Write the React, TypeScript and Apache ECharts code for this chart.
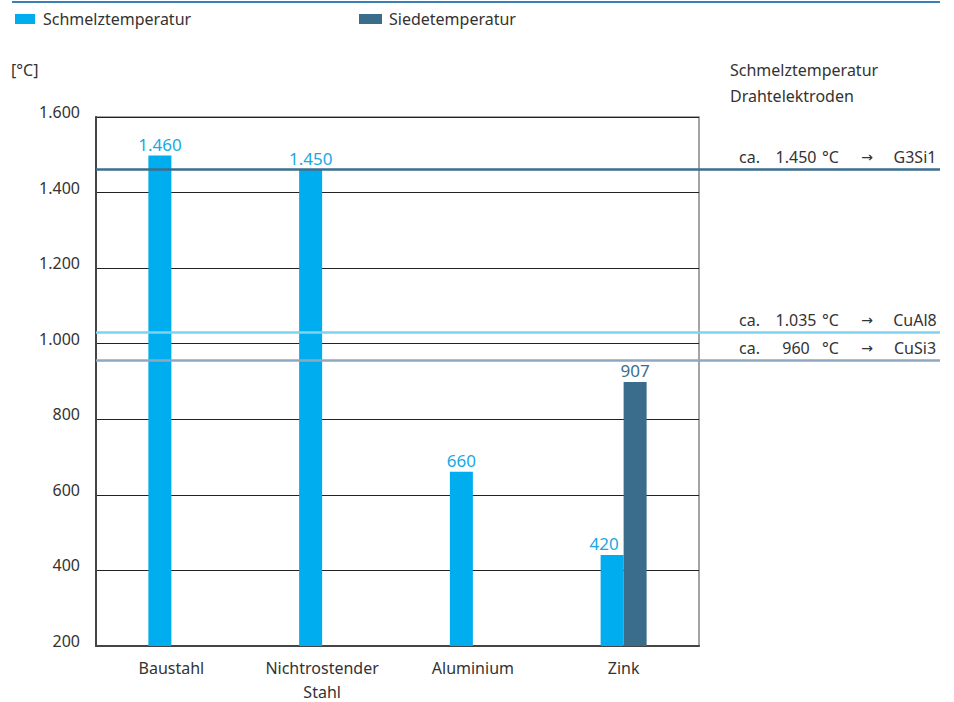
import React, { useEffect, useRef } from "react";
import * as echarts from "echarts";

const categories = ["Baustahl", "Nichtrostender\nStahl", "Aluminium", "Zink"];
const schmelzHeights = [1498, 1461, 661, 441];
const schmelzLabels = ["1.460", "1.450", "660", "420"];
const siedeHeights: (number | null)[] = [null, null, null, 899];
const siedeLabels = ["", "", "", "907"];
const yMin = 200;
const yMax = 1600;
const yStep = 200;
const wireLineValues = [1463, 1030, 957];
const wireTemps = ["1.450", "1.035", "960"];
const wireNames = ["G3Si1", "CuAl8", "CuSi3"];
const wireColors = ["#3b6f8f", "#7dd3f0", "#8fa8bf"];

const FONT = "'Noto Sans', sans-serif";
const CYAN = "#00adee";
const DARK = "#3a6d8c";
const TEXT = "#333333";

const fmt = (v: number) =>
  v >= 1000 ? `${Math.floor(v / 1000)}.${String(v % 1000).padStart(3, "0")}` : String(v);

export default function App() {
  const ref = useRef<HTMLDivElement>(null);
  useEffect(() => {
    if (!ref.current) return;
    const chart = echarts.init(ref.current, undefined, { renderer: "svg" });
    chart.setOption({
      animation: false,
      textStyle: { fontFamily: FONT },
      graphic: [
        { type: "rect", shape: { x: 12, y: 1, width: 928, height: 2 }, style: { fill: "#3a7fb6" } },
      ],
      title: [
        {
          text: "[°C]",
          left: 11,
          top: 62,
          padding: 0,
          textStyle: { fontSize: 16, fontWeight: "normal", color: TEXT, fontFamily: FONT },
        },
        {
          text: "Schmelztemperatur\nDrahtelektroden",
          left: 730,
          top: 57,
          padding: 0,
          textStyle: { fontSize: 16, fontWeight: "normal", color: TEXT, lineHeight: 26, fontFamily: FONT },
        },
      ],
      legend: [
        {
          data: ["Schmelztemperatur"],
          left: 15,
          top: 11,
          padding: 0,
          icon: "rect",
          itemWidth: 20,
          itemHeight: 10,
          textStyle: { fontSize: 16, color: TEXT, padding: [0, 0, 0, 3], fontFamily: FONT },
        },
        {
          data: ["Siedetemperatur"],
          left: 359,
          top: 11,
          padding: 0,
          icon: "rect",
          itemWidth: 23,
          itemHeight: 10,
          textStyle: { fontSize: 16, color: TEXT, padding: [0, 0, 0, 2], fontFamily: FONT },
        },
      ],
      grid: [
        {
          left: 96,
          top: 117,
          width: 603,
          height: 529,
          show: true,
          borderColor: "#888",
          borderWidth: 1.5,
          backgroundColor: "transparent",
          outerBoundsMode: "none",
          containLabel: false,
        },
        { left: 96, top: 117, width: 844, height: 529, show: false, outerBoundsMode: "none", containLabel: false },
      ],
      xAxis: [
        {
          type: "category",
          gridIndex: 0,
          data: categories,
          axisLine: { show: true, lineStyle: { color: "#444", width: 2 } },
          axisTick: { show: false },
          axisLabel: { fontSize: 16, color: TEXT, lineHeight: 24, margin: 10, fontFamily: FONT },
        },
        { type: "value", gridIndex: 1, min: 0, max: 1, show: false },
      ],
      yAxis: [
        {
          type: "value",
          gridIndex: 0,
          min: yMin,
          max: yMax,
          interval: yStep,
          axisLine: { show: true, lineStyle: { color: "#444", width: 2 } },
          axisTick: { show: false },
          splitLine: { show: true, lineStyle: { color: "#222", width: 1 } },
          axisLabel: {
            color: TEXT,
            margin: 16,
            formatter: (v: number) => `{v|${fmt(v)}}`,
            rich: {
              v: { fontSize: 16, color: TEXT, fontFamily: FONT, padding: [0, 0, 10, 0] },
            },
          },
        },
        { type: "value", gridIndex: 1, min: yMin, max: yMax, show: false },
      ],
      series: [
        {
          name: "Schmelztemperatur",
          type: "bar",
          xAxisIndex: 0,
          yAxisIndex: 0,
          barWidth: 23,
          barGap: "0%",
          itemStyle: { color: CYAN },
          data: schmelzHeights.map((v, i) =>
            i === 3 ? { value: v, label: { offset: [-8, 0] } } : v
          ),
          label: {
            show: true,
            position: "top",
            distance: 3,
            fontSize: 17,
            color: "#1aa8e2",
            fontFamily: FONT,
            formatter: (p: any) => schmelzLabels[p.dataIndex],
          },
        },
        {
          name: "Siedetemperatur",
          type: "bar",
          xAxisIndex: 0,
          yAxisIndex: 0,
          barWidth: 23,
          barGap: "0%",
          itemStyle: { color: DARK },
          data: siedeHeights,
          label: {
            show: true,
            position: "top",
            distance: 3,
            fontSize: 17,
            color: DARK,
            fontFamily: FONT,
            formatter: (p: any) => siedeLabels[p.dataIndex],
          },
        },
        {
          name: "wires",
          type: "line",
          xAxisIndex: 1,
          yAxisIndex: 1,
          data: [
            [0, yMin],
            [1, yMin],
          ],
          symbol: "none",
          lineStyle: { opacity: 0, width: 0 },
          silent: true,
          z: 5,
          markLine: {
            silent: true,
            symbol: ["none", "none"],
            animation: false,
            data: wireLineValues.map((v, i) => ({
              yAxis: v,
              lineStyle: { color: wireColors[i], width: 2.5, type: "solid" },
              label: {
                show: true,
                position: "insideEndTop",
                distance: [0, 4],
                color: TEXT,
                fontSize: 16,
                fontFamily: FONT,
                formatter: `{a|ca.}{b|${wireTemps[i]}}{c|°C}{d|→}{e|${wireNames[i]}}`,
                rich: {
                  a: { width: 36, align: "left", fontSize: 16, color: TEXT, fontFamily: FONT },
                  b: { width: 42, align: "right", fontSize: 16, color: TEXT, fontFamily: FONT },
                  c: { width: 27, align: "right", fontSize: 16, color: TEXT, fontFamily: FONT },
                  d: { width: 46, align: "center", fontSize: 14, color: TEXT, fontFamily: "'DejaVu Sans', sans-serif" },
                  e: { width: 50, align: "left", fontSize: 16, color: TEXT, fontFamily: FONT },
                },
              },
            })),
          },
        },
      ],
    });
    return () => chart.dispose();
  }, []);
  return (
    <div
      ref={ref}
      style={{ position: "fixed", left: 0, top: 0, width: 954, height: 702, background: "#fff" }}
    />
  );
}
